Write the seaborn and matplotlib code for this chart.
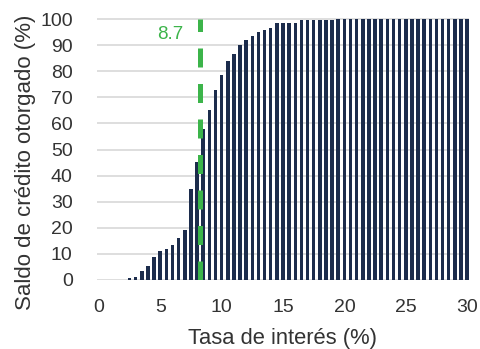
import matplotlib
matplotlib.use("Agg")
import matplotlib.pyplot as plt
import seaborn as sns
import pandas as pd

rates = [2.5, 3.0, 3.5, 4.0, 4.5, 5.0, 5.5, 6.0, 6.5, 7.0, 7.5, 8.0, 8.5, 9.0,
         9.5, 10.0, 10.5, 11.0, 11.5, 12.0, 12.5, 13.0, 13.5, 14.0, 14.5, 15.0,
         15.5, 16.0, 16.5, 17.0, 17.5, 18.0, 18.5, 19.0, 19.5, 20.0, 20.5, 21.0,
         21.5, 22.0, 22.5, 23.0, 23.5, 24.0, 24.5, 25.0, 25.5, 26.0, 26.5, 27.0,
         27.5, 28.0, 28.5, 29.0, 29.5, 30.0]
cum_share = [0.7, 1.2, 3.6, 5.2, 9.0, 11.0, 12.0, 13.6, 16.1, 19.0, 34.7, 45.3,
             58.0, 65.1, 72.9, 78.6, 83.8, 86.6, 90.2, 92.1, 93.6, 95.2, 95.8,
             96.4, 98.6, 98.6, 98.6, 98.6, 99.6, 99.6, 99.6, 99.6, 99.6, 99.8,
             100, 100, 100, 100, 100, 100, 100, 100, 100, 100, 100, 100, 100,
             100, 100, 100, 100, 100, 100, 100, 100, 100]
marker_x = 8.2
marker_label = "8.7"
x_ticks = [0, 5, 10, 15, 20, 25, 30]
y_ticks = [0, 10, 20, 30, 40, 50, 60, 70, 80, 90, 100]

sns.set_theme(style="white")
plt.rcParams["font.family"] = ["Liberation Sans", "DejaVu Sans"]

df = pd.DataFrame({"tasa": rates, "saldo": cum_share})

fig = plt.figure(figsize=(4.81, 3.49), dpi=100)
ax = fig.add_axes([97 / 481, 69 / 349, 372 / 481, 262 / 349])

ax.set_axisbelow(True)
for yv in y_ticks:
    ax.axhline(yv, color="#d4d4d4", lw=1.1, zorder=0)

sns.barplot(data=df, x="tasa", y="saldo", native_scale=True, width=0.57,
            color="#1c2c4c", saturation=1, linewidth=0, edgecolor="none",
            ax=ax, zorder=2)

ax.plot([marker_x, marker_x], [0, 100], color="#3cb44a", lw=3.6,
        dashes=(3.8, 3.3), solid_capstyle="butt", dash_capstyle="butt", zorder=3)
ax.text(5.8, 94.0, marker_label, color="#3cb44a", fontsize=13.5,
        ha="center", va="center")

ax.set_xlim(-0.15, 30.15)
ax.set_ylim(0, 100.4)
ax.set_xticks(x_ticks)
ax.set_xticklabels([str(t) for t in x_ticks])
ax.set_yticks(y_ticks)
ax.set_yticklabels([str(t) for t in y_ticks])
ax.tick_params(axis="both", length=0, labelsize=14, labelcolor="#333333")
ax.tick_params(axis="y", pad=17.5)
ax.tick_params(axis="x", pad=13.5)
for s in ax.spines.values():
    s.set_visible(False)

ax.set_xlabel("Tasa de interés (%)", fontsize=15.8, color="#333333", labelpad=9)
ax.set_ylabel("Saldo de crédito otorgado (%)", fontsize=16, color="#333333")
ax.yaxis.set_label_coords(-0.163, 0.45)

fig.savefig("out.png", dpi=100)
